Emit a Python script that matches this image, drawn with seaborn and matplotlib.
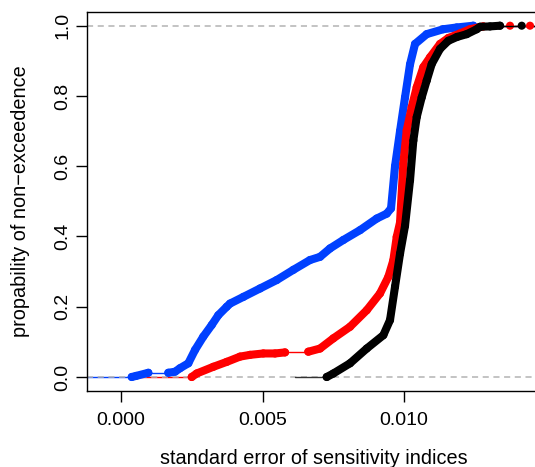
import numpy as np
import pandas as pd
import matplotlib
matplotlib.use("Agg")
import matplotlib.pyplot as plt
import seaborn as sns

# ECDF points (standard error, probability)
blue_se = [0.000378, 0.000530, 0.000965, 0.001671, 0.001908, 0.002085, 0.002378,
           0.002615, 0.002908, 0.003205, 0.003438, 0.003735, 0.003852, 0.004322,
           0.004912, 0.005502, 0.006088, 0.006678, 0.007032, 0.007385, 0.007855,
           0.008445, 0.009035, 0.009389, 0.009541, 0.009682, 0.009859, 0.010035,
           0.010212, 0.010389, 0.010802, 0.011389, 0.011862, 0.012449]
blue_p = [0.000, 0.003, 0.012, 0.012, 0.015, 0.025, 0.039,
          0.077, 0.115, 0.148, 0.176, 0.200, 0.209, 0.228,
          0.252, 0.276, 0.305, 0.333, 0.342, 0.366, 0.390,
          0.418, 0.451, 0.465, 0.480, 0.600, 0.700, 0.796,
          0.890, 0.948, 0.976, 0.990, 0.995, 1.000]

red_se = [0.002498, 0.002675, 0.003261, 0.003735, 0.004205, 0.004558, 0.005028,
          0.005442, 0.005795, 0.006618, 0.007032, 0.007502, 0.008092, 0.008682,
          0.009152, 0.009445, 0.009622, 0.009742, 0.009859, 0.009975, 0.010095,
          0.010272, 0.010449, 0.010682, 0.010919, 0.011272, 0.011565, 0.011979,
          0.012332, 0.012802, 0.013746, 0.014452]
red_p = [0.000, 0.010, 0.029, 0.043, 0.058, 0.063, 0.067,
         0.067, 0.070, 0.072, 0.081, 0.110, 0.143, 0.190,
         0.238, 0.285, 0.332, 0.399, 0.440, 0.607, 0.702,
         0.768, 0.825, 0.882, 0.910, 0.948, 0.965, 0.978,
         0.990, 0.998, 1.000, 1.000]

black_se = [0.007269, 0.007502, 0.008092, 0.008682, 0.009269, 0.009505, 0.009682,
            0.009859, 0.010035, 0.010212, 0.010329, 0.010449, 0.010625, 0.010802,
            0.010979, 0.011272, 0.011565, 0.011873, 0.012216, 0.012569, 0.012686,
            0.013039, 0.013392, 0.014159]
black_p = [0.000, 0.010, 0.039, 0.081, 0.119, 0.162, 0.257,
           0.351, 0.430, 0.560, 0.673, 0.740, 0.796, 0.844,
           0.891, 0.934, 0.957, 0.968, 0.976, 0.990, 0.997,
           0.998, 1.000, 1.000]

# where each curve's flat part at zero starts
tail_start = [None, 0.000378, 0.006148]

x_ticks = [0.000, 0.005, 0.010]
y_ticks = [0.0, 0.2, 0.4, 0.6, 0.8, 1.0]

sns.set_theme(style="white")
plt.rcParams['font.family'] = ['Liberation Sans', 'DejaVu Sans']
plt.rcParams['axes.edgecolor'] = 'black'
plt.rcParams['text.color'] = 'black'
plt.rcParams['axes.labelcolor'] = 'black'

fig = plt.figure(figsize=(5.35, 4.67), dpi=100)
ax = fig.add_axes([0.1621, 0.1634, 0.8473, 0.8109])
xmin, xmax = -0.001212, 0.014806
ax.set_xlim(xmin, xmax)
ax.set_ylim(-0.039, 1.039)

series = [(blue_se, blue_p, '#0040FF'), (red_se, red_p, '#FF0000'), (black_se, black_p, 'black')]

# flat tails (to -inf and +inf)
for (se, p, col), ts in zip(series, tail_start):
    if ts is None:
        ts = xmin
    if col != 'black':
        ax.plot([ts, se[0]], [0, 0], color=col, lw=1.0, zorder=1)
    ax.plot([se[-1], xmax], [1, 1], color=col, lw=1.0, zorder=1)

ax.axhline(0, color='#B3B3B3', ls=(0, (4, 3)), lw=1.1, zorder=1.5)
ax.axhline(1, color='#B3B3B3', ls=(0, (4, 3)), lw=1.1, zorder=1.5)
ax.plot([tail_start[2], black_se[0]], [0, 0], color='#333333', lw=1.0, zorder=1.6)

gap = 0.0006
for i, (se, p, col) in enumerate(series):
    z = 2 + i
    df = pd.DataFrame({'se': se, 'p': p})
    dx = np.diff(df['se'].to_numpy())
    # sparse steps: thin horizontal segment as in a step ECDF
    for k in np.where(dx >= gap)[0]:
        ax.plot([se[k], se[k + 1]], [p[k], p[k]], color=col, lw=1.0, zorder=z)
    df['run'] = np.concatenate([[0], np.cumsum(dx >= gap)])
    for r, g in df.groupby('run'):
        if len(g) > 1:
            sns.lineplot(data=g, x='se', y='p', color=col, lw=5.8, estimator=None,
                         sort=False, ax=ax, zorder=z, solid_capstyle='round',
                         solid_joinstyle='round')
    sns.scatterplot(data=df, x='se', y='p', color=col, s=34, edgecolor='none',
                    ax=ax, zorder=z + 0.5, legend=False)

ax.set_xticks(x_ticks)
ax.set_xticklabels([f"{v:.3f}" for v in x_ticks])
ax.set_yticks(y_ticks)
ax.set_yticklabels([f"{v:.1f}" for v in y_ticks])
ax.tick_params(axis='both', direction='out', length=8, width=1.0, colors='black',
               labelsize=14, bottom=True, left=True)
ax.tick_params(axis='x', pad=7)
ax.tick_params(axis='y', pad=3, labelrotation=90)
for lab in ax.get_yticklabels():
    lab.set_va('center')

ax.set_xlabel('standard error of sensitivity indices', fontsize=14.3, color='black')
ax.set_ylabel('propability of non\u2212exceedence', fontsize=14.3, color='black')
ax.xaxis.set_label_coords(0.5, -0.178)
ax.xaxis.label.set_va('center')
ax.yaxis.set_label_coords(-0.1455, 0.5)
ax.yaxis.label.set_va('center')

for s in ax.spines.values():
    s.set_linewidth(1.0)
    s.set_color('black')

fig.savefig('out.png', dpi=100)
